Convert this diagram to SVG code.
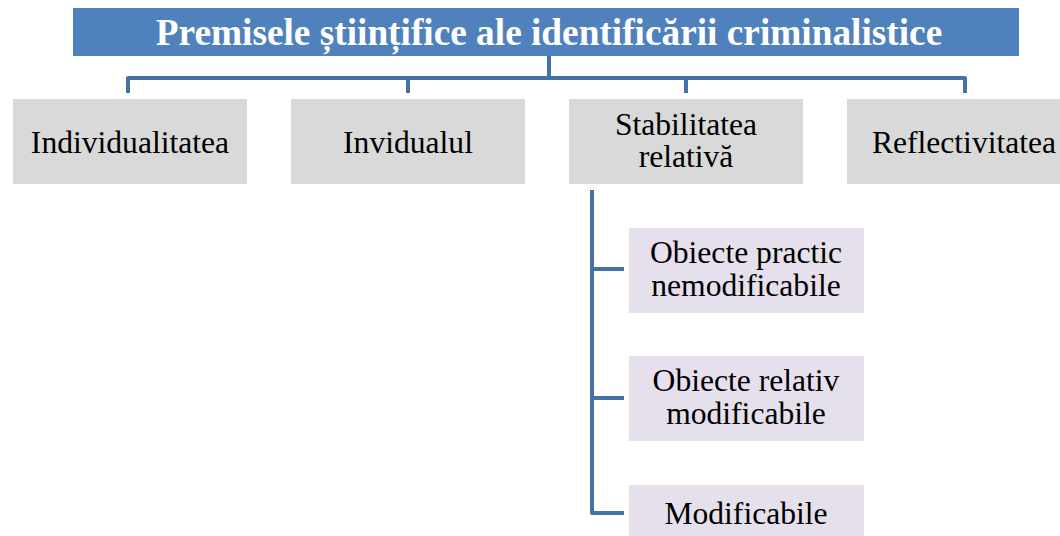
<svg xmlns="http://www.w3.org/2000/svg" width="1060" height="536" viewBox="0 0 1060 536">
<style>
.t{font-family:"Liberation Serif","Times New Roman",serif;font-size:31.6px;fill:#000;text-anchor:middle}
.title{font-family:"Liberation Serif","Times New Roman",serif;font-size:37.3px;font-weight:bold;fill:#fff;text-anchor:middle}
.gray{fill:#D9D9D9}
.lav{fill:#E6E0EC}
.conn{fill:none;stroke:#4471A6;stroke-width:4;stroke-linejoin:round}
</style>
<rect width="1060" height="536" fill="#fff"/>
<g id="connectors">
<path class="conn" d="M549 56 V78"/>
<path class="conn" d="M128 93 V78 H965 V93"/>
<path class="conn" d="M408 78 V93"/>
<path class="conn" d="M686 78 V93"/>
<path class="conn" d="M592 190 V513 H624"/>
<path class="conn" d="M592 269 H624"/>
<path class="conn" d="M592 398 H624"/>
</g>
<g id="title">
<rect x="73" y="8" width="946" height="48" fill="#4F81BD"/>
<text class="title" x="549" y="45">Premisele științifice ale identificării criminalistice</text>
</g>
<g id="n1">
<rect class="gray" x="13" y="99" width="234" height="85"/>
<text class="t" x="130" y="153">Individualitatea</text>
</g>
<g id="n2">
<rect class="gray" x="291" y="99" width="234" height="85"/>
<text class="t" x="408" y="153">Invidualul</text>
</g>
<g id="n3">
<rect class="gray" x="569" y="99" width="234" height="85"/>
<text class="t" x="686" y="135">Stabilitatea</text>
<text class="t" x="686" y="167">relativă</text>
</g>
<g id="n4">
<rect class="gray" x="847" y="99" width="234" height="85"/>
<text class="t" x="964" y="153">Reflectivitatea</text>
</g>
<g id="s1">
<rect class="lav" x="629" y="228" width="235" height="85"/>
<text class="t" x="746" y="263">Obiecte practic</text>
<text class="t" x="746" y="296">nemodificabile</text>
</g>
<g id="s2">
<rect class="lav" x="629" y="356" width="235" height="85"/>
<text class="t" x="746" y="391">Obiecte relativ</text>
<text class="t" x="746" y="424">modificabile</text>
</g>
<g id="s3">
<rect class="lav" x="629" y="485" width="235" height="85"/>
<text class="t" x="746" y="524">Modificabile</text>
</g>
</svg>
